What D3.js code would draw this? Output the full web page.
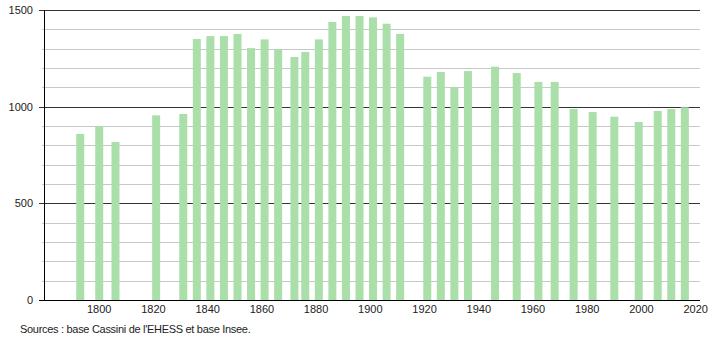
<!DOCTYPE html>
<html>
<head>
<meta charset="utf-8">
<script src="https://cdn.jsdelivr.net/npm/d3@7"></script>
<style>
  body { margin: 0; background: white; }
  svg { display: block; font-family: "Liberation Sans", Arial, sans-serif; }
</style>
</head>
<body>
<div id="chart"></div>
<script>
// Census years and population
const years = [1793, 1800, 1806, 1821, 1831, 1836, 1841, 1846, 1851, 1856, 1861, 1866,
  1872, 1876, 1881, 1886, 1891, 1896, 1901, 1906, 1911, 1921, 1926, 1931, 1936,
  1946, 1954, 1962, 1968, 1975, 1982, 1990, 1999, 2006, 2011, 2016];
const population = [859, 900, 817, 955, 962, 1350, 1365, 1365, 1376, 1303, 1348, 1297,
  1257, 1283, 1348, 1438, 1469, 1469, 1462, 1429, 1376, 1155, 1179, 1100, 1184,
  1207, 1174, 1128, 1128, 988, 972, 948, 921, 978, 988, 997];
const xTicks = [1800, 1820, 1840, 1860, 1880, 1900, 1920, 1940, 1960, 1980, 2000, 2020];
const yTicks = [0, 500, 1000, 1500];
const source = "Sources : base Cassini de l'EHESS et base Insee.";

const width = 710, height = 340;
const margin = {left: 44, right: 700, top: 10, bottom: 300};

const svg = d3.select("#chart").append("svg")
  .attr("width", width)
  .attr("height", height);

// soft edges like the original raster
svg.append("defs").append("filter")
    .attr("id", "soft")
  .append("feGaussianBlur")
    .attr("stdDeviation", "0.6 0.4");

const x = d3.scaleLinear().domain([1780, 2021.6]).range([45, 700]);
const y = d3.scaleLinear().domain([0, 1500]).range([margin.bottom, margin.top]);

// minor grid every 100
const minor = d3.range(100, 1500, 100).filter(v => v % 500 !== 0);
svg.append("g").selectAll("line")
  .data(minor)
  .join("line")
    .attr("x1", margin.left - 2).attr("x2", margin.right)
    .attr("y1", d => Math.round(y(d)) + 0.5)
    .attr("y2", d => Math.round(y(d)) + 0.5)
    .attr("stroke", "#c8c8c8");

// major lines
svg.append("g").selectAll("line")
  .data(yTicks)
  .join("line")
    .attr("x1", margin.left - 5).attr("x2", margin.right)
    .attr("y1", d => Math.round(y(d)) + 0.5)
    .attr("y2", d => Math.round(y(d)) + 0.5)
    .attr("stroke", d => d === 0 ? "#000" : "#333");

// bars
svg.append("g")
    .attr("filter", "url(#soft)")
  .selectAll("rect")
  .data(years.map((yr, i) => ({year: yr, value: population[i]})))
  .join("rect")
    .attr("x", d => x(d.year) - 4)
    .attr("y", d => y(d.value))
    .attr("width", 8)
    .attr("height", d => y(0) - y(d.value))
    .attr("fill", "#aadfaa");

// axes lines on top
svg.append("line")
  .attr("x1", margin.left - 5).attr("x2", margin.right)
  .attr("y1", Math.round(y(0)) + 0.5).attr("y2", Math.round(y(0)) + 0.5)
  .attr("stroke", "#000");
svg.append("line")
  .attr("x1", margin.left + 0.5).attr("x2", margin.left + 0.5)
  .attr("y1", margin.top).attr("y2", margin.bottom)
  .attr("stroke", "#000");

// y labels
svg.append("g").selectAll("text")
  .data(yTicks)
  .join("text")
    .attr("x", 33)
    .attr("y", d => y(d) + 4)
    .attr("text-anchor", "end")
    .attr("font-size", 11)
    .attr("fill", "#222")
    .text(d => d);

// x labels
svg.append("g").selectAll("text")
  .data(xTicks)
  .join("text")
    .attr("x", d => x(d))
    .attr("y", 313)
    .attr("text-anchor", "middle")
    .attr("font-size", 11)
    .attr("fill", "#222")
    .text(d => d);

svg.append("text")
  .attr("x", 20)
  .attr("y", 333)
  .attr("font-size", 11)
  .attr("letter-spacing", -0.3)
  .attr("fill", "#222")
  .text(source);
</script>
</body>
</html>
